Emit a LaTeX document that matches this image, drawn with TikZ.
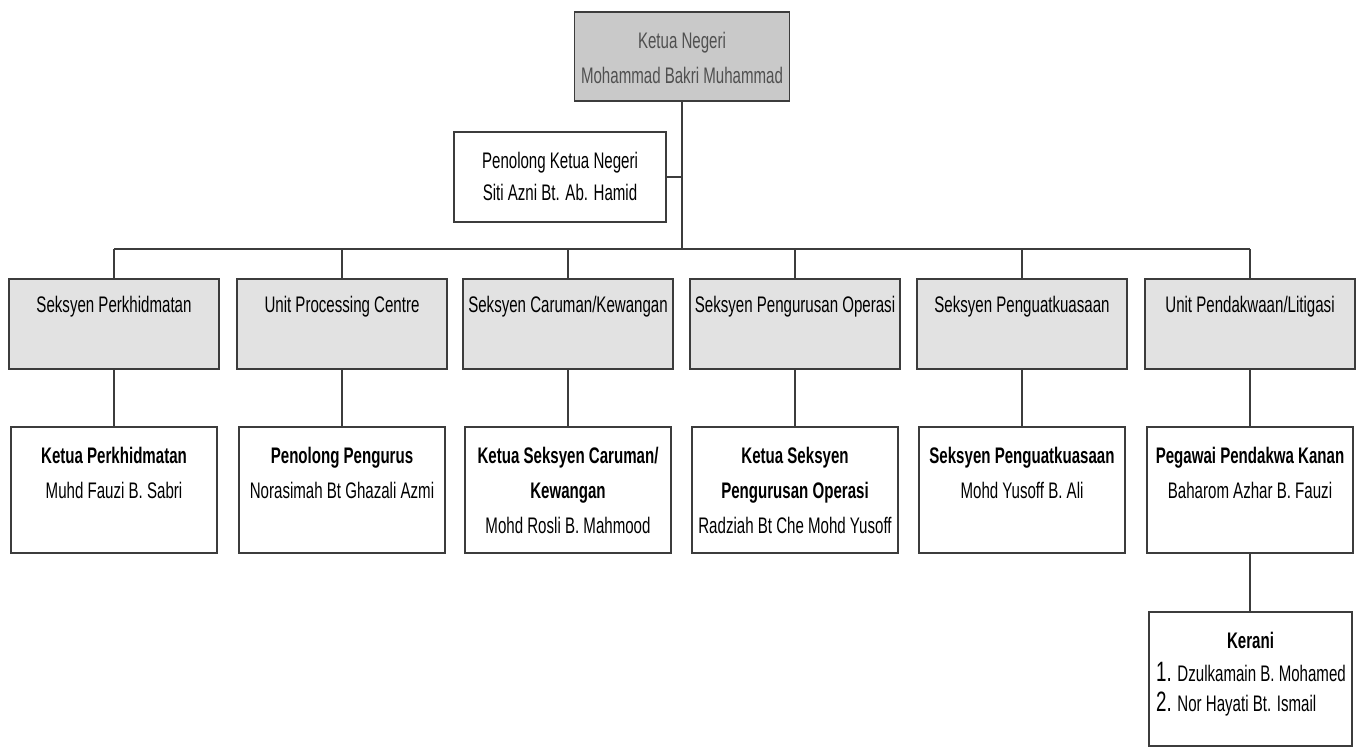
\documentclass[tikz,border=0pt]{standalone}
\usepackage{fontspec}
\setmainfont{Liberation Sans}[FakeStretch=0.67]
\definecolor{edge}{HTML}{3C3C3C}
\definecolor{chieffill}{HTML}{C9C9C9}
\definecolor{secfill}{HTML}{E2E2E2}
\definecolor{chieftext}{HTML}{505050}
\begin{document}
\begin{tikzpicture}[x=1pt,y=-1pt,
  frame/.style={draw=edge, line width=1.6pt, inner sep=0pt, outer sep=0pt},
  chief/.style={frame, fill=chieffill, minimum width=215pt, minimum height=89pt},
  plain/.style={frame, fill=white, minimum width=212pt, minimum height=90pt},
  section/.style={frame, fill=secfill, minimum width=210pt, minimum height=90pt},
  staff/.style={frame, fill=white, minimum width=206pt, minimum height=126pt},
  txt/.style={inner sep=0pt, outer sep=0pt, align=center, anchor=north},
  link/.style={draw=edge, line width=1.5pt}]
\useasboundingbox (0,0) rectangle (1356,749);

% head of the state office and assistant
\node[chief] (chief) at (682,56.5) {};
\node[txt, text=chieftext, font=\fontsize{22.5}{35}\selectfont] (chief-t)
  at ([yshift=-20pt]chief.north) {Ketua Negeri\\Mohammad Bakri Muhammad};
\node[plain] (asst) at (560,177) {};
\node[txt, font=\fontsize{22.5}{32}\selectfont] (asst-t)
  at ([yshift=-20pt]asst.north) {Penolong Ketua Negeri\\Siti Azni Bt. Ab. Hamid};

% sections
\foreach \n/\x in {1/114, 2/342, 3/568, 4/795, 5/1022, 6/1250}{
  \node[section] (sec\n) at (\x,324) {};
  \node[staff] (staff\n) at (\x,490) {};
}
\tikzset{sectxt/.style={txt, font=\fontsize{22.5}{32}\selectfont}}
\node[sectxt] (sec1-t) at ([yshift=-17.5pt]sec1.north) {Seksyen Perkhidmatan};
\node[sectxt] (sec2-t) at ([yshift=-17.5pt]sec2.north) {Unit Processing Centre};
\node[sectxt] (sec3-t) at ([yshift=-17.5pt]sec3.north) {Seksyen Caruman/Kewangan};
\node[sectxt] (sec4-t) at ([yshift=-17.5pt]sec4.north) {Seksyen Pengurusan Operasi};
\node[sectxt] (sec5-t) at ([yshift=-17.5pt]sec5.north) {Seksyen Penguatkuasaan};
\node[sectxt] (sec6-t) at ([yshift=-17.5pt]sec6.north) {Unit Pendakwaan/Litigasi};

% officers under each section
\tikzset{stafftxt/.style={txt, font=\fontsize{22.5}{35}\selectfont}}
\node[stafftxt] (staff1-t) at ([yshift=-20pt]staff1.north)
  {\textbf{Ketua Perkhidmatan}\\Muhd Fauzi B. Sabri};
\node[stafftxt] (staff2-t) at ([yshift=-20pt]staff2.north)
  {\textbf{Penolong Pengurus}\\Norasimah Bt Ghazali Azmi};
\node[stafftxt] (staff3-t) at ([yshift=-20pt]staff3.north)
  {\textbf{Ketua Seksyen Caruman/}\\\textbf{Kewangan}\\Mohd Rosli B. Mahmood};
\node[stafftxt] (staff4-t) at ([yshift=-20pt]staff4.north)
  {\textbf{Ketua Seksyen}\\\textbf{Pengurusan Operasi}\\Radziah Bt Che Mohd Yusoff};
\node[stafftxt] (staff5-t) at ([yshift=-20pt]staff5.north)
  {\textbf{Seksyen Penguatkuasaan}\\Mohd Yusoff B. Ali};
\node[stafftxt] (staff6-t) at ([yshift=-20pt]staff6.north)
  {\textbf{Pegawai Pendakwa Kanan}\\Baharom Azhar B. Fauzi};

% clerks
\node[staff, minimum width=203pt, minimum height=134pt] (clerk) at (1250.5,679) {};
\node[txt, font=\fontsize{22.5}{32}\selectfont\bfseries] (clerk-t)
  at ([yshift=-20pt]clerk.north) {Kerani};
\node[inner sep=0pt, anchor=base west, font=\fontsize{22.5}{30}\selectfont] (clerk-1)
  at (1156,681) {{\fontsize{28}{28}\selectfont 1.} Dzulkamain B. Mohamed};
\node[inner sep=0pt, anchor=base west, font=\fontsize{22.5}{30}\selectfont] (clerk-2)
  at (1156,711) {{\fontsize{28}{28}\selectfont 2.} Nor Hayati Bt. Ismail};

% connectors
\coordinate (bus) at (682,249);
\draw[link] (chief.south) -- (bus);
\draw[link] (asst.east) -- (asst.east -| chief.south);
\draw[link] (sec1.north |- bus) -- (sec6.north |- bus);
\foreach \n in {1,...,6}{
  \draw[link] (sec\n.north |- bus) -- (sec\n.north);
  \draw[link] (sec\n.south) -- (staff\n.north);
}
\draw[link] (staff6.south) -- (staff6.south |- clerk.north);
\end{tikzpicture}
\end{document}
